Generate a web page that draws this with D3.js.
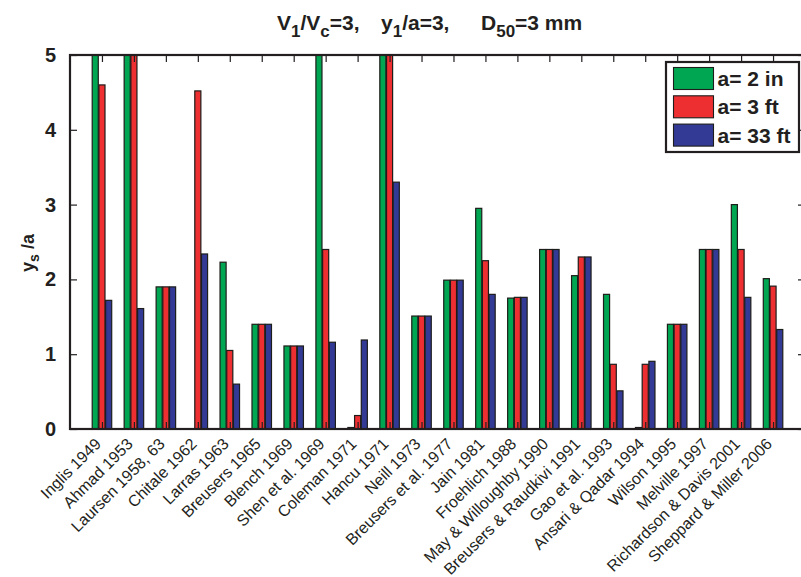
<!DOCTYPE html>
<html>
<head>
<meta charset="utf-8">
<script src="https://cdn.jsdelivr.net/npm/d3@7"></script>
<style>
  html, body { margin: 0; padding: 0; background: #fff; }
  svg { display: block; font-family: "Liberation Sans", Arial, Helvetica, sans-serif; }
</style>
</head>
<body>
<svg id="chart" width="801" height="577"></svg>
<script>
// Scour-depth predictions (ys/a) from the published equations for three pier widths
const categories = [
  "Inglis 1949", "Ahmad 1953", "Laursen 1958, 63", "Chitale 1962", "Larras 1963",
  "Breusers 1965", "Blench 1969", "Shen et al. 1969", "Coleman 1971", "Hancu 1971",
  "Neill 1973", "Breusers et al. 1977", "Jain 1981", "Froehlich 1988",
  "May & Willoughby 1990", "Breusers & Raudkivi 1991", "Gao et al. 1993",
  "Ansari & Qadar 1994", "Wilson 1995", "Melville 1997", "Richardson & Davis 2001",
  "Sheppard & Miller 2006"
];
const seriesNames = ["a= 2 in", "a= 3 ft", "a= 33 ft"];
const pier2in  = [5, 5, 1.9, null, 2.23, 1.4, 1.11, 5, 0.02, 5, 1.51, 1.99, 2.95, 1.75, 2.4, 2.05, 1.8, 0.02, 1.4, 2.4, 3.0, 2.01];
const pier3ft  = [4.6, 5, 1.9, 4.52, 1.05, 1.4, 1.11, 2.4, 0.18, 5, 1.51, 1.99, 2.25, 1.76, 2.4, 2.3, 0.865, 0.865, 1.4, 2.4, 2.4, 1.91];
const pier33ft = [1.72, 1.61, 1.9, 2.34, 0.6, 1.4, 1.11, 1.16, 1.19, 3.3, 1.51, 1.99, 1.8, 1.76, 2.4, 2.3, 0.51, 0.905, 1.4, 2.4, 1.76, 1.33];
const yTicks = [0, 1, 2, 3, 4, 5];
const seriesColors = ["#00a651", "#ed2f32", "#333a95"];

const series = [pier2in, pier3ft, pier33ft];

const svg = d3.select("#chart");
const plot = { left: 70, right: 805, top: 55, bottom: 429 };

// Positions 1..N along x, axis limits [0, N+1]
const x = d3.scaleLinear().domain([0, categories.length + 1]).range([plot.left, plot.right]);
const y = d3.scaleLinear().domain([0, 5]).range([plot.bottom, plot.top]);

const unit = x(1) - x(0);
const barW = unit * 0.19;
const pitch = unit * 0.21;

svg.append("defs").append("clipPath").attr("id", "plotClip")
  .append("rect")
  .attr("x", plot.left).attr("y", plot.top)
  .attr("width", plot.right - plot.left).attr("height", plot.bottom - plot.top);

// Bars
const barLayer = svg.append("g").attr("clip-path", "url(#plotClip)");
series.forEach((vals, s) => {
  barLayer.append("g")
    .selectAll("rect")
    .data(vals.map((v, i) => ({ v, i })).filter(d => d.v !== null))
    .join("rect")
    .attr("x", d => x(d.i + 1) + (s - 1) * pitch - barW / 2)
    .attr("y", d => y(d.v))
    .attr("width", barW)
    .attr("height", d => y(0) - y(d.v))
    .attr("fill", seriesColors[s])
    .attr("stroke", "#1d1d1b")
    .attr("stroke-width", 1.2);
});

// Axes with inward ticks on all four sides
const tickLen = 7;
const xPositions = d3.range(1, categories.length + 1);
const axisG = svg.append("g");

const leftAxis = d3.axisLeft(y).tickValues(yTicks).tickSize(-tickLen).tickPadding(14).tickFormat(d3.format("d"));
axisG.append("g").attr("transform", `translate(${plot.left},0)`).call(leftAxis)
  .call(g => g.select(".domain").remove())
  .call(g => g.selectAll("text").attr("font-size", 20).attr("font-weight", "bold").attr("fill", "#231f20")
    .attr("font-family", "'Liberation Sans', Arial, sans-serif"));

const rightAxis = d3.axisRight(y).tickValues(yTicks).tickSize(-tickLen).tickFormat("");
axisG.append("g").attr("transform", `translate(${plot.right},0)`).call(rightAxis)
  .call(g => g.select(".domain").remove());

const topAxis = d3.axisTop(x).tickValues(xPositions).tickSize(-tickLen).tickFormat("");
axisG.append("g").attr("transform", `translate(0,${plot.top})`).call(topAxis)
  .call(g => g.select(".domain").remove());

const bottomAxis = d3.axisBottom(x).tickValues(xPositions).tickSize(-tickLen).tickFormat("");
axisG.append("g").attr("transform", `translate(0,${plot.bottom})`).call(bottomAxis)
  .call(g => g.select(".domain").remove());

axisG.selectAll(".tick line").attr("stroke", "#231f20").attr("stroke-width", 1.2);

// Frame
svg.append("rect")
  .attr("x", plot.left).attr("y", plot.top)
  .attr("width", plot.right - plot.left).attr("height", plot.bottom - plot.top)
  .attr("fill", "none").attr("stroke", "#231f20").attr("stroke-width", 2.2);

// Rotated category labels
svg.append("g").selectAll("text")
  .data(categories)
  .join("text")
  .attr("transform", (d, i) => `translate(${x(i + 1)},445) rotate(-45)`)
  .attr("text-anchor", "end")
  .attr("font-size", 16)
  .attr("fill", "#231f20")
  .text(d => d);

// Y axis title: y_s /a
const yTitle = svg.append("text")
  .attr("transform", "translate(34,253) rotate(-90)")
  .attr("text-anchor", "middle")
  .attr("font-size", 18)
  .attr("font-weight", "bold")
  .attr("fill", "#231f20");
yTitle.append("tspan").text("y");
yTitle.append("tspan").attr("font-size", 14).attr("dy", 5).text("s");
yTitle.append("tspan").attr("dy", -5).text(" /a");

// Chart title, split into three groups with subscripts
const titleParts = [
  { x: 277, pieces: [["V", 0], ["1", 1], ["/V", 0], ["c", 1], ["=3,", 0]] },
  { x: 381, pieces: [["y", 0], ["1", 1], ["/a=3,", 0]] },
  { x: 481, pieces: [["D", 0], ["50", 1], ["=3 mm", 0]] }
];
titleParts.forEach(part => {
  const t = svg.append("text")
    .attr("x", part.x).attr("y", 30)
    .attr("font-size", 21)
    .attr("font-weight", "bold")
    .attr("fill", "#231f20");
  part.pieces.forEach(([txt, sub]) => {
    const ts = t.append("tspan").text(txt);
    if (sub) ts.attr("dy", 7).attr("font-size", 17);
    else if (t.selectAll("tspan").size() > 1) ts.attr("dy", -7);
  });
});

// Legend
const legend = svg.append("g");
legend.append("rect")
  .attr("x", 666).attr("y", 62).attr("width", 133).attr("height", 90)
  .attr("fill", "#fff").attr("stroke", "#231f20").attr("stroke-width", 2.2);
seriesNames.forEach((name, s) => {
  const yy = 67.5 + s * 28.3;
  legend.append("rect")
    .attr("x", 673.5).attr("y", yy).attr("width", 40).attr("height", 22)
    .attr("fill", seriesColors[s]).attr("stroke", "#1d1d1b").attr("stroke-width", 1.1);
  legend.append("text")
    .attr("x", 717.5).attr("y", yy + 18.5)
    .attr("font-size", 21).attr("font-weight", "bold").attr("fill", "#231f20")
    .text(name);
});
</script>
</body>
</html>
